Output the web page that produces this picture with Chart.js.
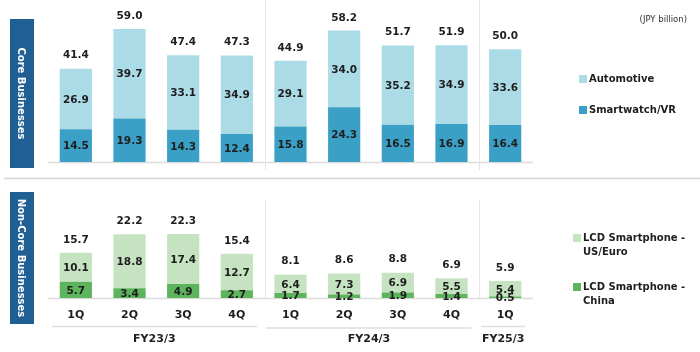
<!DOCTYPE html>
<html>
<head>
<meta charset="utf-8">
<script src="https://cdn.jsdelivr.net/npm/chart.js@4.4.1/dist/chart.umd.min.js"></script>
<style>
  html, body { margin: 0; padding: 0; background: #fff; }
  #wrap { width: 700px; height: 352px; }
</style>
</head>
<body>
<div id="wrap"><canvas id="chart" width="700" height="352"></canvas></div>
<script>
// data (JPY billion)
const quarters = ['1Q', '2Q', '3Q', '4Q', '1Q', '2Q', '3Q', '4Q', '1Q'];
const fiscalYears = ['FY23/3', 'FY24/3', 'FY25/3'];
const fyFirst = [0, 4, 8];
const fyLast = [3, 7, 8];

const smartwatchVR = [14.5, 19.3, 14.3, 12.4, 15.8, 24.3, 16.5, 16.9, 16.4];
const automotive = [26.9, 39.7, 33.1, 34.9, 29.1, 34.0, 35.2, 34.9, 33.6];
const coreTotals = [41.4, 59.0, 47.4, 47.3, 44.9, 58.2, 51.7, 51.9, 50.0];

const lcdChina = [5.7, 3.4, 4.9, 2.7, 1.7, 1.2, 1.9, 1.4, 0.5];
const lcdUsEuro = [10.1, 18.8, 17.4, 12.7, 6.4, 7.3, 6.9, 5.5, 5.4];
const nonCoreTotals = [15.7, 22.2, 22.3, 15.4, 8.1, 8.6, 8.8, 6.9, 5.9];

const FONT = '"DejaVu Sans", Verdana, sans-serif';
const TEXT = '#1e1e1e';
const COLORS = {
  smartwatch: '#3ba0c6',
  automotive: '#acdbe8',
  china: '#5cb45c',
  usEuro: '#c5e3c0',
  side: '#1f5f94',
  line: '#dcdcdc'
};

function hline(ctx, x1, x2, y, color, w) {
  ctx.save();
  ctx.strokeStyle = color;
  ctx.lineWidth = w;
  ctx.beginPath();
  ctx.moveTo(x1, y);
  ctx.lineTo(x2, y);
  ctx.stroke();
  ctx.restore();
}

function vline(ctx, x, y1, y2, color, w) {
  ctx.save();
  ctx.strokeStyle = color;
  ctx.lineWidth = w;
  ctx.beginPath();
  ctx.moveTo(x, y1);
  ctx.lineTo(x, y2);
  ctx.stroke();
  ctx.restore();
}

function sideLabel(ctx, x, y, w, h, text) {
  ctx.save();
  ctx.fillStyle = COLORS.side;
  ctx.fillRect(x, y, w, h);
  ctx.translate(x + w / 2, y + h / 2);
  ctx.rotate(Math.PI / 2);
  ctx.fillStyle = '#fff';
  ctx.font = 'bold 10px ' + FONT;
  ctx.textAlign = 'center';
  ctx.textBaseline = 'middle';
  ctx.fillText(text, 0, 1);
  ctx.restore();
}

function legendItem(ctx, x, y, color, lines) {
  ctx.save();
  ctx.fillStyle = color;
  ctx.fillRect(x, y - 4, 8, 8);
  ctx.fillStyle = TEXT;
  ctx.font = 'bold 10px ' + FONT;
  ctx.textAlign = 'left';
  ctx.textBaseline = 'middle';
  lines.forEach((t, i) => ctx.fillText(t, x + 10, y + i * 14));
  ctx.restore();
}

const panelDecor = {
  id: 'panelDecor',
  beforeDatasetsDraw(chart) {
    const ctx = chart.ctx;
    const x = chart.scales.x;
    const yTop = chart.scales.yTop;
    const yBot = chart.scales.yBot;
    const left = chart.chartArea.left;
    const right = chart.chartArea.right;

    // panel divider
    hline(ctx, 4, 700, 178.5, '#d4d4d4', 1.5);

    // base lines of both panels
    hline(ctx, left - 1, right + 1, yTop.getPixelForValue(0) + 0.5, COLORS.line, 1.5);
    hline(ctx, left - 1, right + 1, yBot.getPixelForValue(0) + 0.5, COLORS.line, 1.5);

    // separators between fiscal years
    for (let g = 1; g < fyFirst.length; g++) {
      const sx = Math.round((x.getPixelForValue(fyFirst[g] - 1) + x.getPixelForValue(fyFirst[g])) / 2) + 1.5;
      vline(ctx, sx, 0, 170, '#e6e6e6', 1);
      vline(ctx, sx, 200, yBot.getPixelForValue(0), '#e6e6e6', 1);
    }
  },
  afterDatasetsDraw(chart) {
    const ctx = chart.ctx;
    const x = chart.scales.x;
    ctx.save();
    ctx.fillStyle = TEXT;
    ctx.font = 'bold 10.5px ' + FONT;
    ctx.textAlign = 'center';
    ctx.textBaseline = 'middle';

    // segment values
    chart.data.datasets.forEach((ds, di) => {
      const meta = chart.getDatasetMeta(di);
      meta.data.forEach((bar, i) => {
        ctx.fillText(ds.data[i].toFixed(1), bar.x, (bar.y + bar.base) / 2 + 1);
      });
    });

    // totals above bars
    const yTop = chart.scales.yTop;
    const yBot = chart.scales.yBot;
    coreTotals.forEach((v, i) => {
      ctx.fillText(v.toFixed(1), x.getPixelForValue(i), yTop.getPixelForValue(v) - 13);
    });
    nonCoreTotals.forEach((v, i) => {
      ctx.fillText(v.toFixed(1), x.getPixelForValue(i), yBot.getPixelForValue(v) - 13);
    });

    // quarter labels
    ctx.font = 'bold 11px ' + FONT;
    quarters.forEach((q, i) => ctx.fillText(q, x.getPixelForValue(i), 315));

    // fiscal year groups
    fiscalYears.forEach((fy, g) => {
      const a = x.getPixelForValue(fyFirst[g]);
      const b = x.getPixelForValue(fyLast[g]);
      hline(ctx, a - 24, b + 20, g === 1 ? 328 : 326.5, '#dedede', 1.5);
      ctx.fillText(fy, (a + b) / 2 - 2, 339);
    });
    ctx.restore();

    // side titles
    sideLabel(ctx, 10, 19, 24, 149, 'Core Businesses');
    sideLabel(ctx, 10, 192, 24, 132, 'Non-Core Businesses');

    // unit
    ctx.save();
    ctx.fillStyle = '#333';
    ctx.font = '8.5px ' + FONT;
    ctx.textAlign = 'right';
    ctx.textBaseline = 'middle';
    ctx.fillText('(JPY billion)', 687, 20);
    ctx.restore();

    // legends
    legendItem(ctx, 579, 79, COLORS.automotive, ['Automotive']);
    legendItem(ctx, 579, 110, COLORS.smartwatch, ['Smartwatch/VR']);
    legendItem(ctx, 573, 238, COLORS.usEuro, ['LCD Smartphone -', 'US/Euro']);
    legendItem(ctx, 573, 287, COLORS.china, ['LCD Smartphone -', 'China']);
  }
};

const ctx = document.getElementById('chart').getContext('2d');
const chart = new Chart(ctx, {
  type: 'bar',
  data: {
    labels: quarters,
    datasets: [
      { label: 'Smartwatch/VR', data: smartwatchVR, backgroundColor: COLORS.smartwatch, yAxisID: 'yTop' },
      { label: 'Automotive', data: automotive, backgroundColor: COLORS.automotive, yAxisID: 'yTop' },
      { label: 'LCD Smartphone - China', data: lcdChina, backgroundColor: COLORS.china, yAxisID: 'yBot' },
      { label: 'LCD Smartphone - US/Euro', data: lcdUsEuro, backgroundColor: COLORS.usEuro, yAxisID: 'yBot' }
    ]
  },
  options: {
    responsive: false,
    animation: false,
    barPercentage: 0.6,
    categoryPercentage: 1,
    layout: {
      padding: { left: 49, right: 168, top: 13, bottom: 54 }
    },
    plugins: {
      legend: { display: false },
      tooltip: { enabled: false }
    },
    scales: {
      x: { display: false, stacked: true },
      yTop: {
        display: false, stacked: true, position: 'left',
        stack: 'panels', stackWeight: 149, weight: 2,
        min: 0, max: 66.1
      },
      yBot: {
        display: false, stacked: true, position: 'left',
        stack: 'panels', stackWeight: 136, weight: 1,
        min: 0, max: 47.4
      }
    }
  },
  plugins: [panelDecor]
});
</script>
</body>
</html>
